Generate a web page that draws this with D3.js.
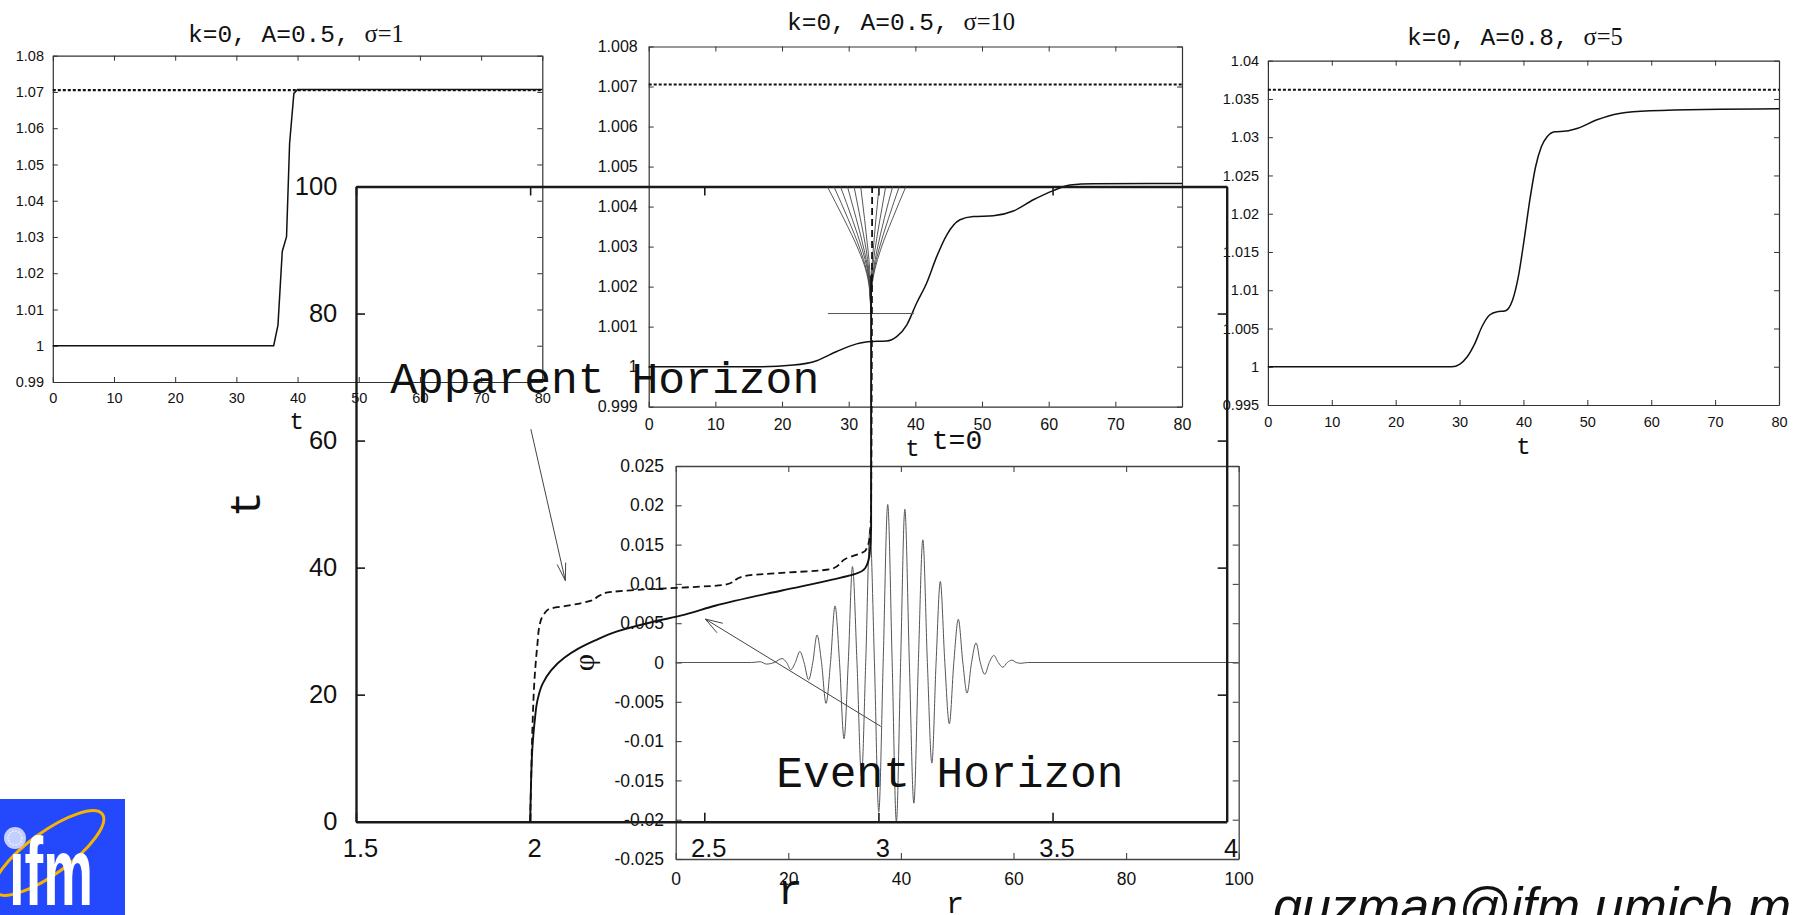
<!DOCTYPE html>
<html>
<head>
<meta charset="utf-8">
<script src="https://cdn.jsdelivr.net/npm/d3@7"></script>
<style>
  html, body { margin: 0; padding: 0; background: #fff; overflow: hidden; }
  svg { display: block; }
  text { white-space: pre; }
</style>
</head>
<body>
<svg id="fig" width="1798" height="915"></svg>
<script>
// ---------------------------------------------------------------------------
// Data
// ---------------------------------------------------------------------------

// shared time axis of the three mass panels
const panelT = [0, 10, 20, 30, 40, 50, 60, 70, 80];
const panelTLabels = ["0", "10", "20", "30", "40", "50", "60", "70", "80"];

// panel A : k=0, A=0.5, sigma=1
const aTitle = ["k=0, A=0.5, ", "σ=1"];
const aYTicks = [0.99, 1.00, 1.01, 1.02, 1.03, 1.04, 1.05, 1.06, 1.07, 1.08];
const aYLabels = ["0.99", "1", "1.01", "1.02", "1.03", "1.04", "1.05", "1.06", "1.07", "1.08"];
const aTime = [0, 36.1, 36.8, 37.5, 38.2, 38.7, 39.4, 40.0, 80];
const aMass = [1.0, 1.0, 1.0057, 1.026, 1.0301, 1.0558, 1.0696, 1.0707, 1.0707];
const aBound = 1.0705;

// panel B : k=0, A=0.5, sigma=10
const bTitle = ["k=0, A=0.5, ", "σ=10"];
const bYTicks = [0.999, 1.000, 1.001, 1.002, 1.003, 1.004, 1.005, 1.006, 1.007, 1.008];
const bYLabels = ["0.999", "1", "1.001", "1.002", "1.003", "1.004", "1.005", "1.006", "1.007", "1.008"];
const bTime = [0, 16.7, 21.7, 25.2, 28.2, 31.2, 32.9, 35.7, 37.2, 38.7, 40.2, 41.7, 43.2,
               44.7, 46.7, 48.7, 51.7, 54.7, 57.7, 60.7, 63.2, 66.7, 80];
const bMass = [1.0, 1.0, 1.00004, 1.00015, 1.00038, 1.00057, 1.000625, 1.00064, 1.00075,
               1.00104, 1.00159, 1.00209, 1.00275, 1.00329, 1.00367, 1.00375, 1.00377,
               1.00389, 1.00417, 1.0044, 1.00454, 1.00457, 1.00458];
const bBound = 1.00705;

// panel C : k=0, A=0.8, sigma=5
const cTitle = ["k=0, A=0.8, ", "σ=5"];
const cYTicks = [0.995, 1.000, 1.005, 1.010, 1.015, 1.020, 1.025, 1.030, 1.035, 1.040];
const cYLabels = ["0.995", "1", "1.005", "1.01", "1.015", "1.02", "1.025", "1.03", "1.035", "1.04"];
const cTime = [0, 28.8, 30.0, 31.2, 32.4, 33.5, 34.7, 35.9, 37.1, 38.3, 39.2, 40.1, 41.0,
               41.9, 42.8, 43.7, 44.9, 46.7, 48.5, 51.4, 55.0, 59.8, 80];
const cMass = [1.0, 1.0, 1.00032, 1.00131, 1.00306, 1.00523, 1.00676, 1.0072, 1.00728,
               1.00872, 1.01177, 1.01656, 1.0218, 1.02614, 1.02876, 1.03006, 1.03072,
               1.0308, 1.03116, 1.03224, 1.03311, 1.03346, 1.03372];
const cBound = 1.0362;

// horizon diagram (r, t)
const mainRTicks = [1.5, 2, 2.5, 3, 3.5, 4];
const mainRLabels = ["1.5", "2", "2.5", "3", "3.5", "4"];
const mainTTicks = [0, 20, 40, 60, 80, 100];
const mainTLabels = ["0", "20", "40", "60", "80", "100"];

const eventR = [2.000, 2.0019, 2.0067, 2.0134, 2.021, 2.0356, 2.0596, 2.098, 2.137, 2.185,
                2.252, 2.348, 2.444, 2.531, 2.723, 2.867, 2.934, 2.963, 2.975, 2.979, 2.979];
const eventT = [0, 4.5, 11.8, 16.0, 19.1, 21.7, 23.8, 25.8, 27.2, 28.5,
                30.0, 31.4, 32.6, 34.0, 36.4, 38.1, 39.0, 40.0, 42.2, 46.3, 86];

const apparentR = [2.000, 2.002, 2.0067, 2.013, 2.021, 2.027, 2.040, 2.0547, 2.108, 2.175,
                   2.199, 2.223, 2.31, 2.559, 2.617, 2.867, 2.906, 2.963, 2.975, 2.979, 2.982];
const apparentT = [0, 4.5, 14.9, 22.8, 28.0, 30.9, 32.7, 33.5, 34.0, 34.8,
                   35.6, 36.1, 36.5, 37.3, 38.7, 39.8, 41.4, 42.7, 44.8, 49.5, 100];

// outgoing light rays leaving the horizon late in the evolution
const rayT = [80, 84, 87, 90, 95, 100];
const rayR = [
  [2.978, 2.974, 2.963, 2.943, 2.900, 2.853],
  [2.978, 2.975, 2.965, 2.948, 2.912, 2.872],
  [2.978, 2.975, 2.968, 2.954, 2.924, 2.891],
  [2.978, 2.976, 2.970, 2.959, 2.936, 2.911],
  [2.978, 2.977, 2.972, 2.965, 2.948, 2.930],
  [2.978, 2.977, 2.975, 2.970, 2.960, 2.949],
  [2.978, 2.979, 2.981, 2.985, 2.993, 3.002],
  [2.978, 2.979, 2.983, 2.990, 3.005, 3.021],
  [2.978, 2.980, 2.986, 2.996, 3.017, 3.041],
  [2.978, 2.980, 2.988, 3.001, 3.029, 3.060],
  [2.978, 2.981, 2.990, 3.006, 3.041, 3.079]
];
const sliceR = [2.855, 3.102];
const sliceT = 80;

// initial scalar field profile phi(r) at t=0
const insetRTicks = [0, 20, 40, 60, 80, 100];
const insetRLabels = ["0", "20", "40", "60", "80", "100"];
const insetPhiTicks = [-0.025, -0.02, -0.015, -0.01, -0.005, 0, 0.005, 0.01, 0.015, 0.02, 0.025];
const insetPhiLabels = ["-0.025", "-0.02", "-0.015", "-0.01", "-0.005", "0", "0.005", "0.01", "0.015", "0.02", "0.025"];
const waveR = [0, 13.5, 15.0, 16.1, 17.5, 18.9, 19.7, 20.45, 21.25, 22.05, 22.8, 23.6, 24.35,
               25.1, 25.9, 26.7, 27.5, 28.3, 29.1, 29.9, 30.65, 31.4, 32.2, 33.0, 33.75,
               34.5, 35.3, 36.07, 36.85, 37.66, 38.45, 39.2, 39.95, 40.7, 41.5, 42.3, 43.1,
               43.9, 44.7, 45.5, 46.25, 47.0, 47.8, 48.6, 49.4, 50.2, 51.0, 51.75, 52.55,
               53.35, 54.1, 54.9, 55.7, 56.5, 57.3, 58.1, 58.9, 59.7, 60.5, 61.3, 62.5, 100];
const wavePhi = [0, 0, 0.0001, -0.0002, 0, 0.0005, 0, -0.0009, 0, 0.0014, 0, -0.0022, 0,
                 0.0035, 0, -0.0052, 0, 0.0072, 0, -0.0097, 0, 0.0122, 0, -0.0145, 0,
                 0.0170, 0, -0.0190, 0, 0.0201, 0, -0.0203, 0, 0.0195, 0, -0.0179, 0,
                 0.0156, 0, -0.0128, 0, 0.0103, 0, -0.0078, 0, 0.0055, 0, -0.0039, 0,
                 0.0025, 0, -0.0015, 0, 0.0009, 0, -0.0006, 0, 0.0003, 0, -0.0001, 0, 0];

// ---------------------------------------------------------------------------
// Drawing
// ---------------------------------------------------------------------------
const SANS = "'Liberation Sans', Arial, Helvetica, sans-serif";
const MONO = "'Courier New', 'Liberation Mono', 'DejaVu Sans Mono', monospace";
const SERIF = "'Times New Roman', 'Liberation Serif', 'DejaVu Serif', serif";

const svg = d3.select("#fig");
svg.append("rect").attr("width", 1798).attr("height", 915).attr("fill", "#fff");

const zip = (xs, ys) => xs.map((v, i) => [v, ys[i]]);

// gnuplot-like frame: inward ticks on all four sides, labels on bottom/left
function frame(g, x, y, o) {
  const [xa, xb] = x.range();
  const [ya, yb] = y.range();
  const style = sel => {
    sel.attr("font-family", null).attr("font-size", null).attr("color", o.color);
    sel.select(".domain").attr("stroke-width", o.lw);
    sel.selectAll(".tick line").attr("stroke-width", o.tw);
    sel.selectAll(".tick text").attr("fill", "#111")
      .attr("font-family", SANS).attr("font-size", o.fs);
  };
  const noText = sel => sel.selectAll(".tick text").remove();

  g.append("g").attr("transform", `translate(0,${ya})`)
    .call(d3.axisBottom(x).tickValues(o.xt).tickFormat((d, i) => o.xl[i])
      .tickSizeInner(-o.tick).tickSizeOuter(0).tickPadding(o.xp))
    .call(style)
    .call(s => s.selectAll(".tick text").attr("dx", o.xdx || 0));
  g.append("g").attr("transform", `translate(0,${yb})`)
    .call(d3.axisTop(x).tickValues(o.xt).tickSizeInner(-o.tick).tickSizeOuter(0))
    .call(style).call(noText);
  g.append("g").attr("transform", `translate(${xa},0)`)
    .call(d3.axisLeft(y).tickValues(o.yt).tickFormat((d, i) => o.yl[i])
      .tickSizeInner(-o.tick).tickSizeOuter(0).tickPadding(o.yp))
    .call(style);
  g.append("g").attr("transform", `translate(${xb},0)`)
    .call(d3.axisRight(y).tickValues(o.yt).tickSizeInner(-o.tick).tickSizeOuter(0))
    .call(style).call(noText);
}

function title(x, y, parts, fs) {
  const t = svg.append("text").attr("x", x).attr("y", y)
    .attr("font-size", fs).attr("fill", "#111");
  t.append("tspan").attr("font-family", MONO).text(parts[0]);
  t.append("tspan").attr("font-family", SERIF).text(parts[1]);
}

// ----- one mass-vs-time panel -----
function massPanel(p) {
  const g = svg.append("g");
  const x = d3.scaleLinear().domain([0, 80]).range(p.xr);
  const y = d3.scaleLinear().domain([p.yt[0], p.yt[p.yt.length - 1]]).range(p.yr);
  frame(g, x, y, {
    xt: panelT, xl: panelTLabels, yt: p.yt, yl: p.yl,
    tick: 5, fs: p.fs, xp: p.xp, yp: p.yp, color: "#333", lw: 1.2, tw: 1
  });
  g.append("line")
    .attr("x1", x(0)).attr("x2", x(80)).attr("y1", y(p.bound)).attr("y2", y(p.bound))
    .attr("stroke", "#111").attr("stroke-width", 2.2).attr("stroke-dasharray", "3,2");
  g.append("path").datum(zip(p.time, p.mass))
    .attr("d", d3.line().x(d => x(d[0])).y(d => y(d[1])).curve(p.curve))
    .attr("fill", "none").attr("stroke", "#111").attr("stroke-width", 1.5);
  title(p.titleX, p.titleY, p.title, 24.5);
  g.append("text").attr("x", (p.xr[0] + p.xr[1]) / 2 + p.tdx).attr("y", p.tY)
    .attr("text-anchor", "middle").attr("font-family", MONO).attr("font-size", 24)
    .attr("fill", "#111").text("t");
}

massPanel({ xr: [52.8, 542.3], yr: [382, 55.7], yt: aYTicks, yl: aYLabels,
  time: aTime, mass: aMass, bound: aBound, curve: d3.curveLinear,
  fs: 14.5, xp: 10.9, yp: 8.8, title: aTitle, titleX: 188, titleY: 41.5, tY: 429, tdx: -0.9 });
massPanel({ xr: [648.7, 1182], yr: [406.7, 46.5], yt: bYTicks, yl: bYLabels,
  time: bTime, mass: bMass, bound: bBound, curve: d3.curveMonotoneX,
  fs: 16, xp: 12, yp: 11, title: bTitle, titleX: 787, titleY: 29.5, tY: 456, tdx: -3 });
massPanel({ xr: [1267.9, 1779], yr: [405, 60.7], yt: cYTicks, yl: cYLabels,
  time: cTime, mass: cMass, bound: cBound, curve: d3.curveMonotoneX,
  fs: 14.5, xp: 11.5, yp: 8.8, title: cTitle, titleX: 1407, titleY: 45, tY: 454, tdx: 0 });

// ----- inset: scalar field at t=0 -----
{
  const g = svg.append("g");
  const x = d3.scaleLinear().domain([0, 100]).range([675.7, 1238.7]);
  const y = d3.scaleLinear().domain([-0.025, 0.025]).range([859, 466]);
  frame(g, x, y, {
    xt: insetRTicks, xl: insetRLabels, yt: insetPhiTicks, yl: insetPhiLabels,
    tick: 6, fs: 17.5, xp: 13.2, yp: 11.7, color: "#444", lw: 1.3, tw: 1.1
  });
  g.append("path").datum(zip(waveR, wavePhi))
    .attr("d", d3.line().x(d => x(d[0])).y(d => y(d[1])).curve(d3.curveMonotoneX))
    .attr("fill", "none").attr("stroke", "#555").attr("stroke-width", 1);
  g.append("text").attr("x", 957).attr("y", 449).attr("text-anchor", "middle")
    .attr("font-family", MONO).attr("font-size", 28).attr("fill", "#111").text("t=0");
  g.append("text").attr("x", 955).attr("y", 913).attr("text-anchor", "middle")
    .attr("font-family", MONO).attr("font-size", 30).attr("fill", "#111").text("r");
  g.append("text").attr("transform", "translate(583,662.5) rotate(-90)")
    .attr("text-anchor", "middle").attr("dominant-baseline", "central")
    .attr("font-family", SERIF).attr("font-size", 30).attr("fill", "#111").text("φ");
}

// ----- horizon diagram -----
{
  const g = svg.append("g");
  const x = d3.scaleLinear().domain([1.5, 4]).range([356, 1226.7]);
  const y = d3.scaleLinear().domain([0, 100]).range([821.7, 186.5]);
  frame(g, x, y, {
    xt: mainRTicks, xl: mainRLabels, yt: mainTTicks, yl: mainTLabels,
    tick: 9, fs: 25.5, xp: 17, yp: 18.7, color: "#1a1a1a", lw: 2.4, tw: 1.6, xdx: 4
  });

  const line = d3.line().x(d => x(d[0])).y(d => y(d[1])).curve(d3.curveMonotoneY);

  // outgoing rays
  g.append("g").selectAll("path").data(rayR).join("path")
    .attr("d", rs => line(zip(rs, rayT)))
    .attr("fill", "none").attr("stroke", "#444").attr("stroke-width", 0.9);
  g.append("line")
    .attr("x1", x(sliceR[0])).attr("x2", x(sliceR[1]))
    .attr("y1", y(sliceT)).attr("y2", y(sliceT))
    .attr("stroke", "#555").attr("stroke-width", 1);

  // apparent horizon (dashed) and event horizon (solid)
  g.append("path").datum(zip(apparentR, apparentT)).attr("d", line)
    .attr("fill", "none").attr("stroke", "#111").attr("stroke-width", 1.8)
    .attr("stroke-dasharray", "7,4");
  g.append("path").datum(zip(eventR, eventT)).attr("d", line)
    .attr("fill", "none").attr("stroke", "#111").attr("stroke-width", 1.9);

  // axis titles
  g.append("text").attr("x", 790).attr("y", 904).attr("text-anchor", "middle")
    .attr("font-family", MONO).attr("font-size", 42).attr("fill", "#111").text("r");
  g.append("text").attr("transform", "translate(247,504) rotate(-90)")
    .attr("text-anchor", "middle").attr("dy", "0.3em")
    .attr("font-family", MONO).attr("font-size", 44).attr("fill", "#111").text("t");

  // annotations
  function arrow(from, to, half) {
    const x0 = x(from[0]), y0 = y(from[1]), x1 = x(to[0]), y1 = y(to[1]);
    const ang = Math.atan2(y0 - y1, x0 - x1);
    const len = 18;
    const a = g.append("g").attr("stroke", "#444").attr("stroke-width", 1).attr("fill", "none");
    a.append("line").attr("x1", x0).attr("y1", y0).attr("x2", x1).attr("y2", y1);
    [-1, 1].forEach(s => {
      const b = ang + s * half * Math.PI / 180;
      a.append("line").attr("x1", x1).attr("y1", y1)
        .attr("x2", x1 + len * Math.cos(b)).attr("y2", y1 + len * Math.sin(b));
    });
  }
  arrow([2.002, 61.8], [2.101, 37.96], 14);
  arrow([3.007, 15.0], [2.503, 31.9], 18);

  g.append("text").attr("x", x(1.598)).attr("y", y(67.5))
    .attr("font-family", MONO).attr("font-size", 44.7).attr("fill", "#111")
    .text("Apparent Horizon");
  g.append("text").attr("x", x(2.707)).attr("y", y(5.5))
    .attr("font-family", MONO).attr("font-size", 44.5).attr("fill", "#111")
    .text("Event Horizon");
}

// ----- institute logo -----
{
  const g = svg.append("g");
  g.append("rect").attr("x", 0).attr("y", 799).attr("width", 125).attr("height", 116)
    .attr("fill", "#2448fb");
  g.append("ellipse").attr("cx", 49).attr("cy", 853).attr("rx", 66).attr("ry", 21)
    .attr("transform", "rotate(-36,49,853)")
    .attr("fill", "none").attr("stroke", "#f6b400").attr("stroke-width", 3);
  g.append("text").attr("x", 9).attr("y", 905)
    .attr("font-family", "'Liberation Sans Narrow', 'Liberation Sans', Arial, sans-serif")
    .attr("font-weight", "bold").attr("font-size", 96)
    .attr("textLength", 84).attr("lengthAdjust", "spacingAndGlyphs")
    .attr("fill", "#fff").text("ıfm");
  g.append("circle").attr("cx", 15).attr("cy", 838).attr("r", 11).attr("fill", "#c4cfff");
  g.append("circle").attr("cx", 15).attr("cy", 838).attr("r", 7)
    .attr("fill", "none").attr("stroke", "#eef2ff").attr("stroke-width", 1.5)
    .attr("stroke-dasharray", "1.5,1.5");
}

// ----- contact line -----
svg.append("text").attr("x", 1273).attr("y", 924)
  .attr("font-family", SANS).attr("font-style", "italic").attr("font-size", 52)
  .attr("fill", "#111").text("guzman@ifm.umich.m");
</script>
</body>
</html>
